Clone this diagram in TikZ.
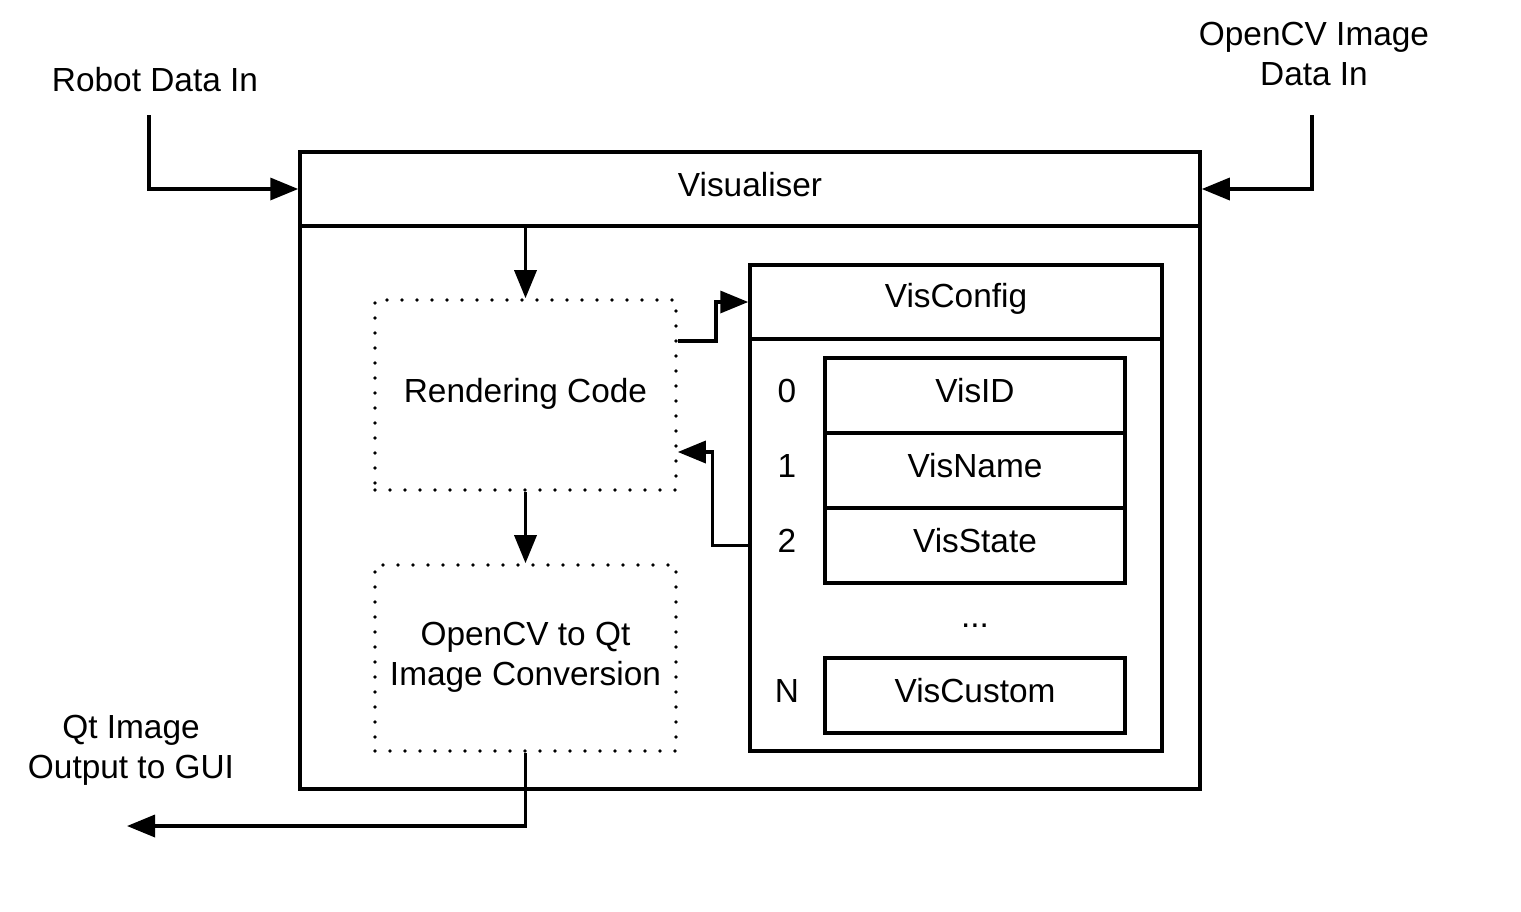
\documentclass[tikz,border=0pt]{standalone}
\usepackage{fontspec}
\setmainfont{Liberation Sans}
\usetikzlibrary{arrows.meta}
\begin{document}
\begin{tikzpicture}[x=1pt,y=-1pt,
  every node/.style={font=\fontsize{33.4}{40}\selectfont, inner sep=0pt, align=center},
  solidbox/.style={draw, line width=3.5pt},
  dotbox/.style={draw, line width=3.6pt, line cap=round, dash pattern=on 0pt off 15pt},
  arr/.style={line width=3.5pt, -{Triangle[length=28pt,width=22pt]}}]
\useasboundingbox (0,0) rectangle (1521,911);
% outer visualiser
\node[solidbox, minimum width=900pt, minimum height=637pt] (vis) at (750,470.5) {};
\node[solidbox, minimum width=900pt, minimum height=74pt] (visHead) at (750,189) {};
\node at (750,185) {Visualiser};
% inner dotted boxes
\node[dotbox, minimum width=301pt, minimum height=190pt] (render) at (525.5,395) {};
\node at (525.5,394) {Rendering Code};
\node[dotbox, minimum width=301pt, minimum height=186pt] (conv) at (525.5,658) {};
\node at (525.5,657) {OpenCV to Qt\\Image Conversion};
% VisConfig
\node[solidbox, minimum width=412pt, minimum height=486pt] (vc) at (956,508) {};
\node[solidbox, minimum width=412pt, minimum height=74pt] (vcHead) at (956,302) {};
\node at (956,299) {VisConfig};
\node[solidbox, minimum width=300pt, minimum height=75pt] (visid) at (975,395.5) {};
\node at (975,391) {VisID};
\node[solidbox, minimum width=300pt, minimum height=75pt] (visname) at (975,470.5) {};
\node at (975,466) {VisName};
\node[solidbox, minimum width=300pt, minimum height=75pt] (visstate) at (975,545.5) {};
\node at (975,541) {VisState};
\node at (975,626) {...};
\node[solidbox, minimum width=300pt, minimum height=75pt] (viscustom) at (975,695.5) {};
\node at (975,691) {VisCustom};
\node (n0) at (787,391) {0};
\node (n1) at (787,466) {1};
\node (n2) at (787,541) {2};
\node (nN) at (787,691) {N};
% external labels
\node (robot) at (155,80) {Robot Data In};
\node (ocv) at (1314,54) {OpenCV Image\\Data In};
\node (qt) at (131,750) {Qt Image\\Output to GUI};
\coordinate (rin) at (149,115);
\coordinate (oin) at (1312,115);
\coordinate (qout) at (127,826);
% connectors
\draw[arr] (rin) |- (visHead.west);
\draw[arr] (oin) |- (visHead.east);
\draw[arr] (render.north |- visHead.south) -- (render.north);
\draw[arr] (render.south) -- (conv.north);
\draw[arr] (conv.south) |- (qout);
\draw[arr] ([yshift=54pt]render.east) -- ++(38,0) |- (vcHead.west);
\draw[arr] (vc.west |- visstate) -- ++(-36,0) |- ([yshift=-57pt]render.east);
\end{tikzpicture}
\end{document}
